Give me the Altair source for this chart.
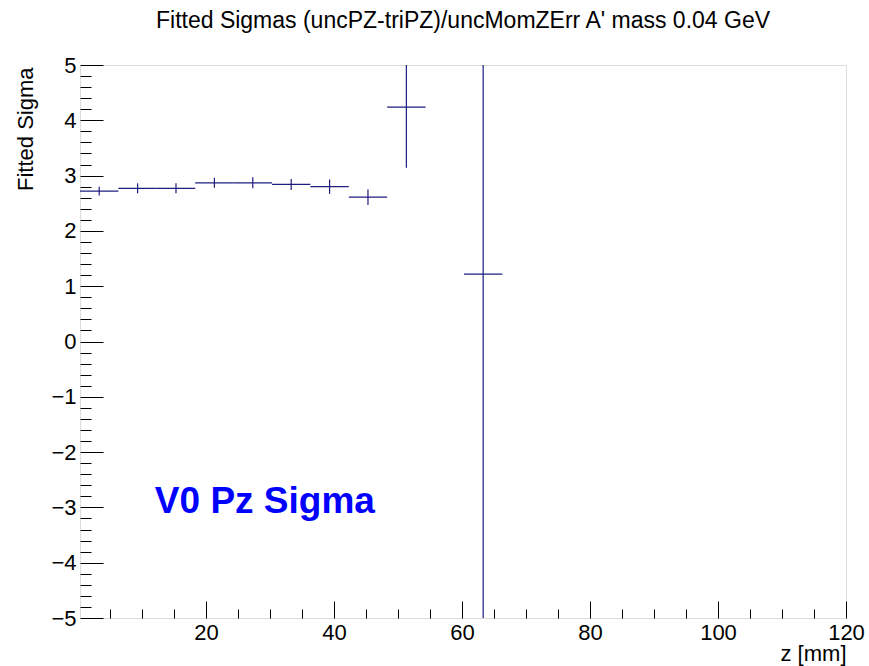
import altair as alt
import pandas as pd

# ---- data ----
bin_lo = [0.3, 6.3, 12.3, 18.3, 24.3, 30.3, 36.3, 42.3, 48.3, 60.3]
bin_hi = [6.3, 12.3, 18.3, 24.3, 30.3, 36.3, 42.3, 48.3, 54.3, 66.3]
bin_center = [3.3, 9.3, 15.3, 21.3, 27.3, 33.3, 39.3, 45.3, 51.3, 63.3]
sigma = [2.72, 2.77, 2.77, 2.87, 2.87, 2.84, 2.80, 2.61, 4.24, 1.22]
sigma_err = [0.08, 0.09, 0.09, 0.09, 0.10, 0.10, 0.13, 0.14, 1.10, 7.0]

x_major = [20, 40, 60, 80, 100, 120]
x_minor = [5, 10, 15, 25, 30, 35, 45, 50, 55, 65, 70, 75, 85, 90, 95, 105, 110, 115]
y_major = [-5, -4, -3, -2, -1, 0, 1, 2, 3, 4, 5]
y_minor = [round(-5 + 0.2 * i, 1) for i in range(51) if i % 5 != 0]

label_text = ["V0 Pz Sigma"]
label_x = [12.0]
label_y = [-3.10]

TITLE = "Fitted Sigmas (uncPZ-triPZ)/uncMomZErr A' mass 0.04 GeV"

W, H = 766, 553
LINE = "#1c1c80"
FONT = "Liberation Sans"

df = pd.DataFrame({
    "lo": bin_lo,
    "hi": bin_hi,
    "center": bin_center,
    "sigma": sigma,
    "ylo": [s - e for s, e in zip(sigma, sigma_err)],
    "yhi": [s + e for s, e in zip(sigma, sigma_err)],
})
ldf = pd.DataFrame({"x": label_x, "y": label_y, "t": label_text})

xs = alt.Scale(domain=[0.3, 120], nice=False, zero=False)
ys = alt.Scale(domain=[-5, 5], nice=False, zero=False)

# Layer 1: horizontal bin-width bars; carries label axes (no ticks)
hbar = alt.Chart(df).mark_rule(color=LINE, strokeWidth=1.2, clip=True).encode(
    x=alt.X("lo:Q", scale=xs, axis=alt.Axis(
        orient="bottom", values=x_major, ticks=False, tickSize=0, domain=False,
        grid=False, labelFontSize=22, labelPadding=4, labelFlush=False,
        labelFont=FONT, labelColor="black", format="d",
        title="z [mm]", titleFontSize=22, titleFont=FONT, titleFontWeight="normal",
        titleColor="black", titleX=W, titleY=42, titleAlign="right",
        titleBaseline="alphabetic")),
    x2="hi:Q",
    y=alt.Y("sigma:Q", scale=ys, axis=alt.Axis(
        orient="left", values=y_major, ticks=False, tickSize=0, domain=False,
        grid=False, labelFontSize=22, labelPadding=4, labelFlush=False,
        labelFont=FONT, labelColor="black", format="d",
        title="Fitted Sigma", titleFontSize=22, titleFont=FONT,
        titleFontWeight="normal", titleColor="black", titleAngle=270,
        titleX=-48, titleY=2, titleAlign="right", titleBaseline="alphabetic")),
)

# Layer 2: vertical error bars; carries inward major ticks
vbar = alt.Chart(df).mark_rule(color=LINE, strokeWidth=1.2, clip=True).encode(
    x=alt.X("center:Q", scale=xs, axis=alt.Axis(
        orient="top", offset=-H, values=x_major, tickSize=17, labels=False,
        domain=False, grid=False, title=None, tickColor="black", tickWidth=1)),
    y=alt.Y("ylo:Q", scale=ys, axis=alt.Axis(
        orient="right", offset=-W, values=y_major, tickSize=23, labels=False,
        domain=False, grid=False, title=None, tickColor="black", tickWidth=1)),
    y2="yhi:Q",
)

# Layer 3: annotation text; carries inward minor ticks
txt = alt.Chart(ldf).mark_text(
    color="#0000ff", fontSize=37, fontWeight="bold", font=FONT,
    align="left", baseline="alphabetic").encode(
    x=alt.X("x:Q", scale=xs, axis=alt.Axis(
        orient="top", offset=-H, values=x_minor, tickSize=9, labels=False,
        domain=False, grid=False, title=None, tickColor="black", tickWidth=1)),
    y=alt.Y("y:Q", scale=ys, axis=alt.Axis(
        orient="right", offset=-W, values=y_minor, tickSize=11, labels=False,
        domain=False, grid=False, title=None, tickColor="black", tickWidth=1)),
    text="t:N",
)

chart = alt.layer(hbar, vbar, txt).resolve_axis(
    x="independent", y="independent"
).properties(
    width=W, height=H,
    title=alt.TitleParams(TITLE, fontSize=23, fontWeight="normal", font=FONT,
                          color="black", anchor="middle", frame="group",
                          baseline="alphabetic", offset=3),
    autosize=alt.AutoSizeParams(type="none"),
    padding={"left": 80, "top": 65, "right": 23, "bottom": 48},
).configure_view(stroke="black", strokeWidth=1.2).configure(background="white")

chart.save("out.html", embed_options={"renderer": "svg", "actions": False})
